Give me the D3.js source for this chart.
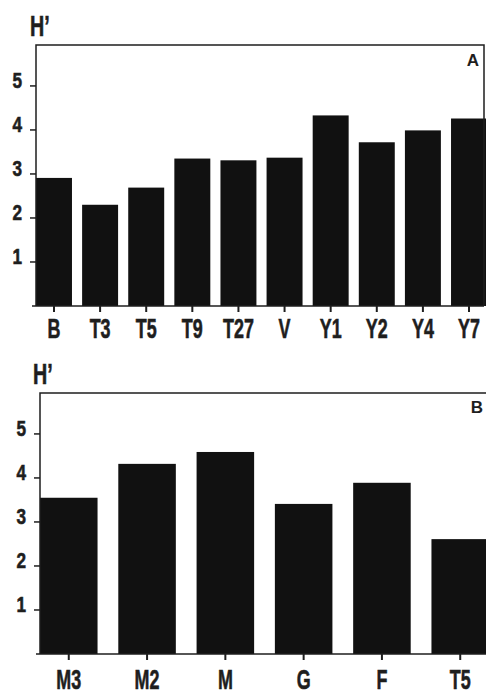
<!DOCTYPE html>
<html>
<head>
<meta charset="utf-8">
<script src="https://cdn.jsdelivr.net/npm/d3@7"></script>
<style>
  body { margin: 0; background: #fff; }
  svg { display: block; }
  .cond { font-family: "Liberation Sans", Arial, sans-serif; font-weight: bold; fill: #1e1e1e; stroke: #1e1e1e; stroke-width: 0.6px; }
</style>
</head>
<body>
<svg id="chart" width="486" height="696"></svg>
<script>
// panel A data
const sitesA = ['B', 'T3', 'T5', 'T9', 'T27', 'V', 'Y1', 'Y2', 'Y4', 'Y7'];
const hA = [2.91, 2.30, 2.69, 3.35, 3.31, 3.37, 4.33, 3.72, 3.99, 4.26];

// panel B data
const sitesB = ['M3', 'M2', 'M', 'G', 'F', 'T5'];
const hB = [3.55, 4.32, 4.59, 3.41, 3.89, 2.61];

const yTicks = [1, 2, 3, 4, 5];

const svg = d3.select('#chart');
const ink = '#1e1e1e';

function drawPanel(cfg) {
    const g = svg.append('g');

    const x = d3.scaleBand()
        .domain(cfg.cats)
        .range([cfg.left, cfg.right])
        .paddingInner(cfg.pad)
        .paddingOuter(0);

    const y = d3.scaleLinear()
        .domain([0, 5.93])
        .range([cfg.base, cfg.top]);

    // bars
    g.selectAll('.bar')
        .data(cfg.vals)
        .enter().append('rect')
        .attr('class', 'bar')
        .attr('x', (d, i) => x(cfg.cats[i]))
        .attr('width', x.bandwidth())
        .attr('y', d => y(d))
        .attr('height', d => y(0) - y(d))
        .attr('fill', '#111');

    // frame: left axis, top line, right edge
    g.append('path')
        .attr('d', `M${cfg.left},${cfg.base}V${cfg.top}H${cfg.frameRight}V${cfg.base}`)
        .attr('fill', 'none')
        .attr('stroke', ink)
        .attr('stroke-width', 1.5);

    // baseline
    g.append('line')
        .attr('x1', cfg.left - 4).attr('x2', cfg.frameRight)
        .attr('y1', cfg.base).attr('y2', cfg.base)
        .attr('stroke', ink).attr('stroke-width', 1.5);

    // y ticks
    g.selectAll('.ytick')
        .data(yTicks)
        .enter().append('line')
        .attr('x1', cfg.left - 6).attr('x2', cfg.left)
        .attr('y1', d => y(d)).attr('y2', d => y(d))
        .attr('stroke', ink).attr('stroke-width', 1.5);

    g.selectAll('.ylab')
        .data(yTicks)
        .enter().append('text')
        .attr('class', 'cond')
        .attr('transform', d => `translate(${cfg.left - 14},${y(d) + 2}) scale(0.78,1)`)
        .attr('text-anchor', 'end')
        .style('font-size', '22px')
        .text(d => d);

    // x ticks + labels
    g.selectAll('.xtick')
        .data(cfg.cats)
        .enter().append('line')
        .attr('x1', d => x(d) + x.bandwidth() / 2)
        .attr('x2', d => x(d) + x.bandwidth() / 2)
        .attr('y1', cfg.base).attr('y2', cfg.base + 6)
        .attr('stroke', ink).attr('stroke-width', 2);

    g.selectAll('.xlab')
        .data(cfg.cats)
        .enter().append('text')
        .attr('class', 'cond')
        .attr('transform', d => `translate(${x(d) + x.bandwidth() / 2},${cfg.base + cfg.labDy}) scale(0.64,1)`)
        .attr('text-anchor', 'middle')
        .style('font-size', '28px')
        .text(d => d);

    // H' title
    g.append('text')
        .attr('class', 'cond')
        .attr('transform', `translate(${cfg.titleX},${cfg.top - 9}) scale(0.68,1)`)
        .style('font-size', '29px')
        .text('H\u2019');

    // panel letter
    g.append('text')
        .attr('x', cfg.letterX)
        .attr('y', cfg.top + cfg.letterDy)
        .attr('text-anchor', 'end')
        .style('font-family', 'Liberation Sans, Arial, sans-serif')
        .style('font-weight', 'bold')
        .style('font-size', '17px')
        .style('fill', ink)
        .text(cfg.letter);
}

drawPanel({cats: sitesA, vals: hA, left: 36, right: 487, pad: 0.22,
    top: 45, base: 306, frameRight: 484, titleX: 30, letter: 'A', letterX: 479, letterDy: 21, labDy: 32});

drawPanel({cats: sitesB, vals: hB, left: 40, right: 489, pad: 0.265,
    top: 393, base: 654, frameRight: 488, titleX: 33, letter: 'B', letterX: 483, letterDy: 20, labDy: 35});
</script>
</body>
</html>
